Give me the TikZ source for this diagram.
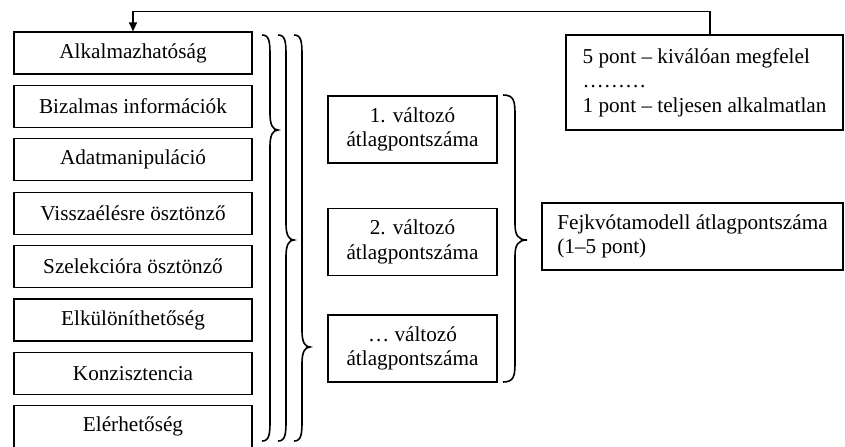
\documentclass[tikz,border=0pt]{standalone}
\usepackage{fontspec}
\setmainfont{Liberation Serif}
\usetikzlibrary{arrows.meta}

\tikzset{
  every node/.style={font=\fontsize{10.6pt}{12.2pt}\selectfont},
  lbox/.style={draw, line width=0.6pt, minimum width=119pt, minimum height=21pt, inner sep=0pt},
  mbox/.style={draw, line width=0.6pt, minimum width=84.5pt, minimum height=33.5pt, align=center},
  rbox/.style={draw, line width=0.6pt, align=left},
  brc/.style={line width=0.8pt},
  arr/.style={line width=0.6pt, -{Triangle[length=4.5pt,width=4pt]}}
}
% x0, xm, tip x, top, tip y, bottom
\newcommand{\drawbrace}[6]{%
  \draw[brc] (#1,#4) .. controls (#2-1,#4) and (#2,#4+6) .. (#2,#4+20) -- (#2,#5-16)
    .. controls (#2,#5-5) and (#2+3,#5) .. (#3,#5)
    .. controls (#2+3,#5) and (#2,#5+5) .. (#2,#5+16)
    -- (#2,#6-20) .. controls (#2,#6-6) and (#2-1,#6) .. (#1,#6);}

\begin{document}
\begin{tikzpicture}[x=0.5pt, y=-0.5pt]
                \useasboundingbox (0,0) rectangle (845,446);
                % criteria
                \foreach \t [count=\i] in {Alkalmazhatóság, Bizalmas információk, Adatmanipuláció,
                    Visszaélésre ösztönző, Szelekcióra ösztönző, Elkülöníthetőség, Konzisztencia, Elérhetőség}
                    \node[lbox] (k\i) at (133, 53.4*\i-0.4) {\t};
                % variables
                \node[mbox] (v1) at (412.5,129.5) {1. változó\\átlagpontszáma};
                \node[mbox] (v2) at (412.5,242) {2. változó\\átlagpontszáma};
                \node[mbox] (v3) at (412.5,348.5) {\dots{} változó\\átlagpontszáma};
                \node[rbox, minimum width=150.5pt, minimum height=33.5pt] (fm) at (692.5,236.5)
                    {Fejkvótamodell átlagpontszáma\\(1–5 pont)};
                \node[rbox, minimum width=138.5pt, minimum height=47.5pt] (skala) at (704.5,82.5)
                    {5 pont – kiválóan megfelel\\………\\1 pont – teljesen alkalmatlan};
                % braces
                \drawbrace{262}{270}{278}{35}{130}{441}
                \drawbrace{278}{286}{294}{35}{240}{441}
                \drawbrace{294}{302}{310}{35}{347}{441}
                \drawbrace{503}{515}{527}{95}{240}{382}
                \draw[arr] ([xshift=2.75pt]skala.north) -- ++(0,11.5pt) -| (k1.north);
            \end{tikzpicture}
\end{document}
